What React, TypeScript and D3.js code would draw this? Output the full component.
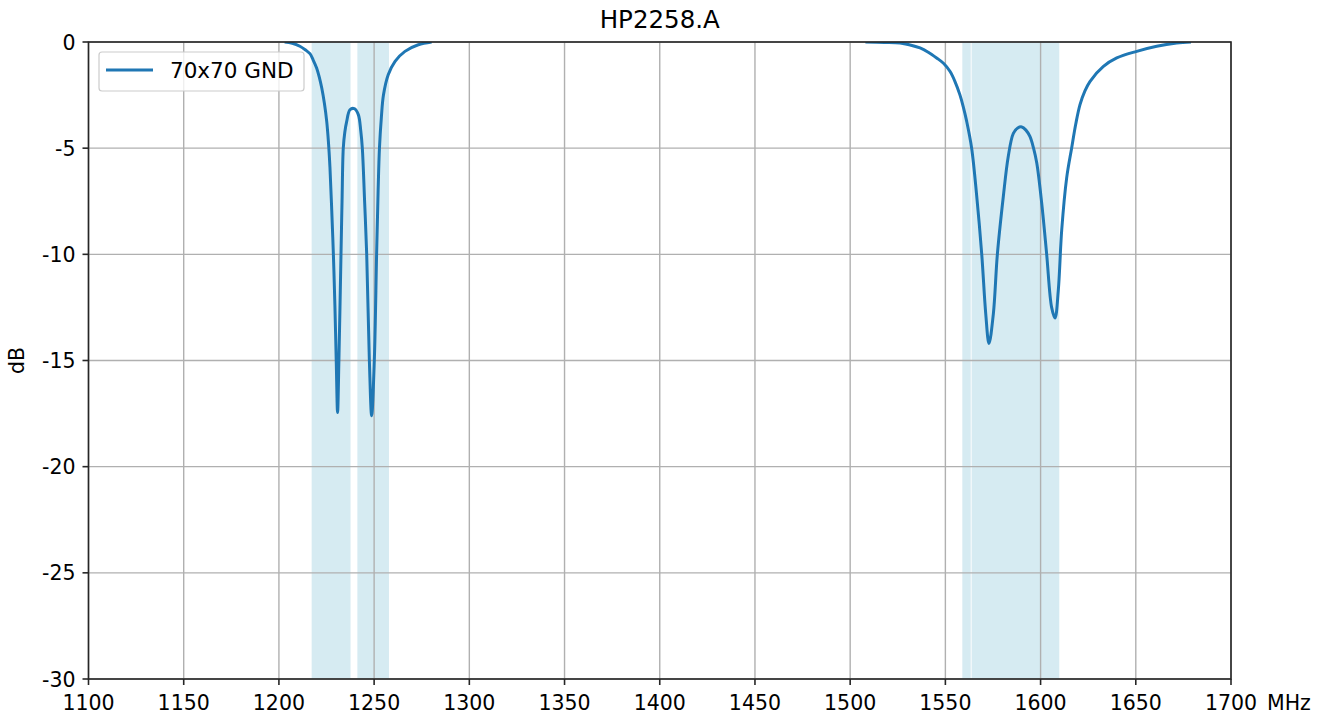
import React from "react";
import * as d3 from "d3";

const xTicks = [1100, 1150, 1200, 1250, 1300, 1350, 1400, 1450, 1500, 1550, 1600, 1650, 1700];
const yTicks = [0, -5, -10, -15, -20, -25, -30];

const spans: [number, number][] = [
  [1217.2, 1237.6],
  [1241.2, 1257.8],
  [1558.9, 1563.3],
  [1563.8, 1609.8],
];

const lowFreq = [
  1203, 1207, 1211, 1214, 1216.3, 1218, 1219.8, 1221.2, 1222.5, 1223.9, 1225.1, 1226.0, 1226.8, 1227.6,
  1228.6, 1229.4, 1230.1, 1230.8, 1231.5, 1232.6, 1233.15, 1233.8, 1234.6, 1235.6, 1237.3, 1239.6, 1241.7,
  1243.0, 1243.8, 1245.0, 1246.1, 1247.5, 1248.7, 1250.1, 1251.3, 1252.1, 1252.8, 1253.8, 1254.9, 1257.4,
  1261.0, 1266.2, 1273.2, 1280.2,
];
const lowDb = [
  0, -0.06, -0.2, -0.38, -0.55, -0.85, -1.22, -1.65, -2.17, -2.9, -3.74, -4.7, -5.9, -7.6,
  -10.0, -12.4, -15.0, -17.45, -15.0, -10.0, -7.5, -5.0, -4.25, -3.74, -3.19, -3.14, -3.42,
  -4.2, -5.0, -7.5, -10.0, -15.0, -17.6, -15.0, -10.0, -7.0, -5.0, -3.55, -2.5, -1.54,
  -0.91, -0.44, -0.13, 0,
];

const highFreq = [
  1508, 1518, 1526.2, 1531, 1536.7, 1541, 1545.4, 1549, 1552.4, 1555, 1557.6, 1559.4, 1561.2, 1563.8,
  1566.4, 1569.1, 1571.2, 1572.9, 1575.2, 1577.3, 1580.4, 1583.0, 1585.7, 1588, 1590.1, 1592.3, 1594.4,
  1596.3, 1598.0, 1600.6, 1603.2, 1605.8, 1607.6, 1609.3, 1611.1, 1613.7, 1616.3, 1618.5, 1620.7, 1623.3,
  1626.0, 1633.0, 1640.0, 1650.5, 1661.0, 1671.5, 1679,
];
const highDb = [
  0, -0.02, -0.05, -0.13, -0.28, -0.48, -0.75, -1.0, -1.38, -1.85, -2.48, -3.05, -3.74, -5.0,
  -7.2, -10.0, -12.8, -14.2, -12.8, -10.0, -7.3, -5.4, -4.3, -4.05, -4.0, -4.15, -4.45,
  -5.0, -5.7, -7.6, -10.0, -12.5, -13.0, -11.7, -8.85, -6.4, -5.0, -3.85, -2.95, -2.3,
  -1.85, -1.15, -0.75, -0.44, -0.2, -0.05, 0,
];

const W = 1323;
const H = 720;
const L = 88.5;
const R = 1231;
const T = 42;
const B = 679;
const FONT = "DejaVu Sans";

export default function App() {
  const x = d3.scaleLinear().domain([1100, 1700]).range([L, R]);
  const y = d3.scaleLinear().domain([-30, 0]).range([B, T]);
  const line = d3
    .line<[number, number]>()
    .x((d) => x(d[0]))
    .y((d) => y(d[1]))
    .curve(d3.curveCatmullRom.alpha(0.5));
  const seg1 = lowFreq.map((f, i) => [f, lowDb[i]] as [number, number]);
  const seg2 = highFreq.map((f, i) => [f, highDb[i]] as [number, number]);
  const spine = "#262626";
  return (
    <svg
      width={W}
      height={H}
      style={{ position: "absolute", left: 0, top: 0, background: "#fff" }}
      fontFamily={FONT}
    >
      <defs>
        <clipPath id="plot">
          <rect x={L} y={T} width={R - L} height={B - T} />
        </clipPath>
      </defs>
      <rect x={0} y={0} width={W} height={H} fill="#fff" />
      {spans.map((s, i) => (
        <rect
          key={i}
          x={x(s[0])}
          y={T}
          width={x(s[1]) - x(s[0])}
          height={B - T}
          fill="#add8e6"
          fillOpacity={0.5}
        />
      ))}
      {xTicks.map((t) => (
        <line key={"gx" + t} x1={x(t)} x2={x(t)} y1={T} y2={B} stroke="#b0b0b0" strokeWidth={1.4} />
      ))}
      {yTicks.map((t) => (
        <line key={"gy" + t} x1={L} x2={R} y1={y(t)} y2={y(t)} stroke="#b0b0b0" strokeWidth={1.4} />
      ))}
      <g clipPath="url(#plot)">
        <path d={line(seg1) || ""} fill="none" stroke="#1f77b4" strokeWidth={3} strokeLinejoin="round" />
        <path d={line(seg2) || ""} fill="none" stroke="#1f77b4" strokeWidth={3} strokeLinejoin="round" />
      </g>
      <rect x={L} y={T} width={R - L} height={B - T} fill="none" stroke={spine} strokeWidth={1.6} />
      {xTicks.map((t) => (
        <g key={"tx" + t}>
          <line x1={x(t)} x2={x(t)} y1={B} y2={B + 6} stroke={spine} strokeWidth={1.6} />
          <text x={x(t)} y={B + 31} textAnchor="middle" fontSize={20.5} fill="#000">
            {t}
          </text>
        </g>
      ))}
      {yTicks.map((t) => (
        <g key={"ty" + t}>
          <line x1={L - 6} x2={L} y1={y(t)} y2={y(t)} stroke={spine} strokeWidth={1.6} />
          <text x={L - 13} y={y(t) + 7.5} textAnchor="end" fontSize={20.5} fill="#000">
            {t}
          </text>
        </g>
      ))}
      <text x={1267} y={B + 31} fontSize={20.5} fill="#000">
        MHz
      </text>
      <text
        transform={`translate(24, ${(T + B) / 2}) rotate(-90)`}
        textAnchor="middle"
        fontSize={20.5}
        fill="#000"
      >
        dB
      </text>
      <text x={(L + R) / 2} y={28} textAnchor="middle" fontSize={24.5} fill="#000">
        HP2258.A
      </text>
      <g>
        <rect
          x={99}
          y={52}
          width={205}
          height={39}
          rx={3}
          fill="#fff"
          fillOpacity={0.8}
          stroke="#cccccc"
          strokeWidth={1.2}
        />
        <line x1={106} x2={153} y1={70} y2={70} stroke="#1f77b4" strokeWidth={3} />
        <text x={170} y={78} fontSize={21.5} fill="#000">
          70x70 GND
        </text>
      </g>
    </svg>
  );
}
